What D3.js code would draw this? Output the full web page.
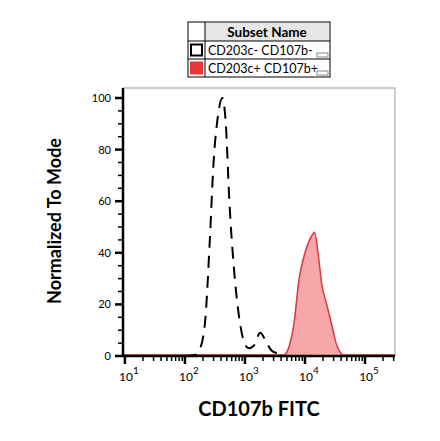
<!DOCTYPE html>
<html><head><meta charset="utf-8">
<script src="https://cdn.jsdelivr.net/npm/d3@7"></script>
<style>body{margin:0;background:#fff}text{font-family:Lato,"Open Sans",sans-serif}</style>
</head><body><svg id="c" width="440" height="441"></svg>
<script>
const legendNames = ["CD203c- CD107b-", "CD203c+ CD107b+"];
const yTicks = [0, 20, 40, 60, 80, 100];
const xDecades = [1, 2, 3, 4, 5];
const negX = [100,150,180,220,260,300,350,420,480,550,650,800,950,1150,1400,1800,2200,2800,3500,4500];
const negY = [0,0.5,3,15,45,75,92,100,90,60,35,15,6,3,4,9,6,2,1,0];
const posX = [4500,5500,6500,8000,10000,12500,14500,16500,19000,23000,28000,33000,40000,46000];
const posY = [0,4,12,30,40,46,48,40,28,20,12,5,1,0];

const svg = d3.select("#c");
const L = 123, R = 395, T = 88, B = 356;
const x = d3.scaleLog().domain([9.3, 3.16e5]).range([L, R]);
const y = d3.scaleLinear().domain([0, 100 * 268 / 258]).range([B, T]);

// frame
svg.append("rect").attr("x", L).attr("y", T).attr("width", R - L).attr("height", B - T)
  .attr("fill", "none").attr("stroke", "#999").attr("stroke-width", 1);

const line = d3.line().x(d => x(d[0])).y(d => y(d[1])).curve(d3.curveMonotoneX);
const area = d3.area().x(d => x(d[0])).y0(y(0)).y1(d => y(d[1])).curve(d3.curveMonotoneX);
const pos = posX.map((v, i) => [v, posY[i]]);
const neg = negX.map((v, i) => [v, negY[i]]);
svg.append("line").attr("x1", L).attr("x2", R).attr("y1", B - 1).attr("y2", B - 1).attr("stroke", "#d33").attr("stroke-width", 1.5);
svg.append("path").datum(pos).attr("d", area).attr("fill", "#f7a6aa").attr("stroke", "#d63a3a").attr("stroke-width", 1.5);
svg.append("path").datum(neg).attr("d", line).attr("fill", "none").attr("stroke", "#000")
  .attr("stroke-width", 2).attr("stroke-dasharray", "12,8");

// axes
const gx = svg.append("g").attr("transform", `translate(0,${B})`);
gx.append("line").attr("x1", L).attr("x2", R).attr("stroke", "#000").attr("stroke-width", 2.5);
const minor = [];
for (let e = 0; e <= 5; e++) for (let m = 1; m < 10; m++) { const v = m * 10 ** e; if (v >= 9.3 && v <= 3.16e5) minor.push(v); }
gx.selectAll(".mt").data(minor).join("line").attr("x1", d => x(d)).attr("x2", d => x(d))
  .attr("y1", 0).attr("y2", d => Math.log10(d) % 1 === 0 ? 8 : 5).attr("stroke", "#000").attr("stroke-width", d => Math.log10(d) % 1 === 0 ? 2.5 : 1.5);
const lab = gx.selectAll(".xl").data(xDecades).join("text").attr("y", 25).attr("text-anchor", "middle")
  .attr("x", d => x(10 ** d) + 4).attr("font-size", 12);
lab.append("tspan").text("10");
lab.append("tspan").attr("dy", -7).attr("font-size", 10).text(d => d);

const gy = svg.append("g").attr("transform", `translate(${L},0)`);
gy.append("line").attr("y1", T).attr("y2", B).attr("stroke", "#000").attr("stroke-width", 2.5);
gy.selectAll(".ym").data(d3.range(0, 101, 5)).join("line").attr("y1", d => y(d)).attr("y2", d => y(d))
  .attr("x1", d => d % 20 === 0 ? -8 : -5).attr("x2", 0).attr("stroke", "#000").attr("stroke-width", d => d % 20 === 0 ? 2.5 : 1.5);
gy.selectAll(".yl").data(yTicks).join("text").attr("x", -12).attr("y", d => y(d) + 4)
  .attr("text-anchor", "end").attr("font-size", 11).text(d => d);

svg.append("text").attr("x", 259).attr("y", 416).attr("text-anchor", "middle")
  .attr("font-size", 20).attr("font-weight", "bold").text("CD107b FITC");
svg.append("text").attr("transform", "translate(61,221) rotate(-90)").attr("text-anchor", "middle")
  .attr("font-size", 18).attr("font-weight", "bold").text("Normalized To Mode");

// legend
const lg = svg.append("g");
lg.append("rect").attr("x", 188).attr("y", 22).attr("width", 142).attr("height", 55).attr("fill", "#fff").attr("stroke", "#000");
lg.append("rect").attr("x", 205).attr("y", 23).attr("width", 124).attr("height", 18).attr("fill", "#e6e6e6");
lg.append("line").attr("x1", 205).attr("x2", 205).attr("y1", 22).attr("y2", 77).attr("stroke", "#000");
[41, 59].forEach(v => lg.append("line").attr("x1", 188).attr("x2", 330).attr("y1", v).attr("y2", v).attr("stroke", "#000"));
lg.append("text").attr("x", 267).attr("y", 37).attr("text-anchor", "middle").attr("font-size", 13.5).attr("font-weight", "bold").text("Subset Name");
legendNames.forEach((n, i) => {
  const yy = 41 + i * 18;
  lg.append("rect").attr("x", 191).attr("y", yy + 3.5).attr("width", 11).attr("height", 11)
    .attr("fill", i ? "#e8363b" : "#fff").attr("stroke", i ? "#e8363b" : "#000").attr("stroke-width", 2);
  lg.append("text").attr("x", 208).attr("y", yy + 14).attr("font-size", 12.5).text(n);
  lg.append("rect").attr("x", 317).attr("y", yy + 12).attr("width", 11).attr("height", 4).attr("fill", "none").attr("stroke", "#555").attr("stroke-width", 0.7);
});
</script></body></html>
